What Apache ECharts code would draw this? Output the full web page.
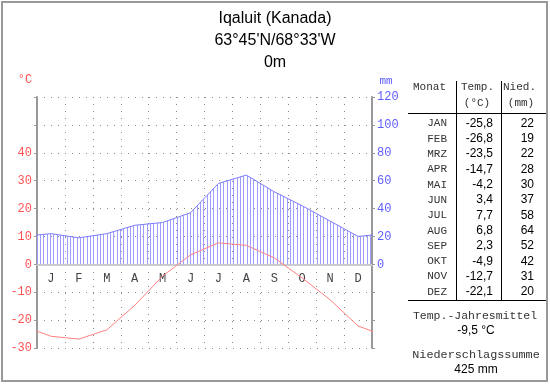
<!DOCTYPE html>
<html>
<head>
<meta charset="utf-8">
<script src="https://cdn.jsdelivr.net/npm/echarts@6/dist/echarts.min.js"></script>
<style>
html,body{margin:0;padding:0;background:#fff;}
#chart{width:550px;height:384px;}
</style>
</head>
<body>
<div id="chart"></div>
<script>
// ---- data ----
const titleLines = ['Iqaluit (Kanada)', "63°45'N/68°33'W", '0m'];
const monthLetters = ['J','F','M','A','M','J','J','A','S','O','N','D'];
const monthAbbr = ['JAN','FEB','MRZ','APR','MAI','JUN','JUL','AUG','SEP','OKT','NOV','DEZ'];
const temps = [-25.8,-26.8,-23.5,-14.7,-4.2,3.4,7.7,6.8,2.3,-4.9,-12.7,-22.1];
const precip = [22,19,22,28,30,37,58,64,52,42,31,20];
const tempTickLabels = [-30,-20,-10,0,10,20,30,40];
const precipTickLabels = [0,20,40,60,80,100,120];
const tableHeader = ['Monat','Temp.','Nied.'];
const tableUnits = ['(°C)','(mm)'];
const footerLabels = ['Temp.-Jahresmittel','Niederschlagssumme'];

// ---- helpers ----
const fmt = v => v.toFixed(1).replace('.', ',');
// cyclic series: December before January and January after December, clipped at the plot edges
function cyclic(arr){
  const out = [[-0.5, arr[arr.length-1]]];
  arr.forEach((v,i)=>out.push([i+0.5, v]));
  out.push([arr.length+0.5, arr[0]]);
  return out;
}
const meanTemp = temps.reduce((a,b)=>a+b,0)/temps.length;
const sumPrecip = precip.reduce((a,b)=>a+b,0);

// hatch pattern
const pat = document.createElement('canvas');
pat.width = 10; pat.height = 10;
const pctx = pat.getContext('2d');
pctx.fillStyle = '#9d9dff';
[0,3,7].forEach(x=>pctx.fillRect(x,0,1,10));

const RED = '#ff5252';
const BLUE = '#6060ff';
const MONO = '"Liberation Mono","DejaVu Sans Mono",monospace';
const SANS = '"Liberation Sans",Arial,sans-serif';

const GRID = {left:37, right:178, top:97, bottom:36};
const TMIN = -30, TMAX = 60;
const gridH = 384 - GRID.top - GRID.bottom;
const zeroOffset = -gridH * (0 - TMIN) / (TMAX - TMIN);

const chart = echarts.init(document.getElementById('chart'), null, {renderer:'canvas'});

const graphics = [];
// frame
graphics.push({type:'rect', shape:{x:2,y:2,width:545,height:379}, style:{fill:null, stroke:'#999', lineWidth:2}, silent:true});
// title
titleLines.forEach((t,i)=>graphics.push({type:'text', x:275, y:19+i*22, style:{text:t, font:'16px '+SANS, fill:'#000', textAlign:'center', textVerticalAlign:'middle'}}));
// units
graphics.push({type:'text', x:25, y:80, style:{text:'°C', font:'12px '+MONO, fill:RED, textAlign:'center', textVerticalAlign:'middle'}});
graphics.push({type:'text', x:386, y:81, style:{text:'mm', font:'11px '+MONO, fill:BLUE, textAlign:'center', textVerticalAlign:'middle'}});
// table
const hx = [413, 461, 503];
tableHeader.forEach((t,i)=>graphics.push({type:'text', x:hx[i], y:87, style:{text:t, font:'11px '+MONO, fill:'#333', textAlign:'left', textVerticalAlign:'middle'}}));
const ux = [477, 521];
tableUnits.forEach((t,i)=>graphics.push({type:'text', x:ux[i], y:103, style:{text:t, font:'11px '+MONO, fill:'#333', textAlign:'center', textVerticalAlign:'middle'}}));
graphics.push({type:'line', shape:{x1:456.5,y1:81,x2:456.5,y2:300}, style:{stroke:'#000', lineWidth:1}});
graphics.push({type:'line', shape:{x1:501.5,y1:81,x2:501.5,y2:300}, style:{stroke:'#000', lineWidth:1}});
graphics.push({type:'line', shape:{x1:408,y1:113.5,x2:546,y2:113.5}, style:{stroke:'#000', lineWidth:1}});
graphics.push({type:'line', shape:{x1:408,y1:300.5,x2:546,y2:300.5}, style:{stroke:'#000', lineWidth:1}});
monthAbbr.forEach((m,i)=>{
  const y = 123.5 + i*15.3;
  graphics.push({type:'text', x:447, y:y, style:{text:m, font:'11px '+MONO, fill:'#333', textAlign:'right', textVerticalAlign:'middle'}});
  graphics.push({type:'text', x:493, y:y, style:{text:fmt(temps[i]), font:'12px '+SANS, fill:'#000', textAlign:'right', textVerticalAlign:'middle'}});
  graphics.push({type:'text', x:534, y:y, style:{text:String(precip[i]), font:'12px '+SANS, fill:'#000', textAlign:'right', textVerticalAlign:'middle'}});
});
graphics.push({type:'text', x:475, y:316, style:{text:footerLabels[0], font:'11.5px '+MONO, fill:'#333', textAlign:'center', textVerticalAlign:'middle'}});
graphics.push({type:'text', x:476, y:331, style:{text:fmt(meanTemp)+' °C', font:'12px '+SANS, fill:'#000', textAlign:'center', textVerticalAlign:'middle'}});
graphics.push({type:'text', x:476, y:355, style:{text:footerLabels[1], font:'11.8px '+MONO, fill:'#333', textAlign:'center', textVerticalAlign:'middle'}});
graphics.push({type:'text', x:476, y:370, style:{text:sumPrecip+' mm', font:'12px '+SANS, fill:'#000', textAlign:'center', textVerticalAlign:'middle'}});

const option = {
  animation:false,
  backgroundColor:'#fff',
  grid:GRID,
  xAxis:[
    {type:'category', data:monthLetters, boundaryGap:true, position:'bottom', offset:zeroOffset,
     axisLine:{onZero:false, lineStyle:{color:'#cccccc', width:2}},
     axisTick:{show:false},
     axisLabel:{interval:0, margin:8, fontFamily:MONO, fontSize:12, color:'#444'},
     splitLine:{show:true, interval:0, lineStyle:{color:'#888', width:1, type:[1,6]}}},
    {type:'value', min:0, max:12, show:false}
  ],
  yAxis:[
    {type:'value', min:TMIN, max:TMAX, interval:10, position:'left',
     axisLine:{show:true, onZero:false, lineStyle:{color:'#999', width:2}},
     axisTick:{show:true, length:3, lineStyle:{color:'#999'}},
     axisLabel:{margin:5, fontFamily:MONO, fontSize:12, color:RED,
       formatter:v=>tempTickLabels.includes(v)?String(v):''},
     splitLine:{show:true, lineStyle:{color:'#888', width:1, type:[1,6]}}},
    {type:'value', min:-60, max:120, interval:20, position:'right',
     axisLine:{show:true, onZero:false, lineStyle:{color:'#999', width:2}},
     axisTick:{show:true, length:3, lineStyle:{color:'#999'}},
     axisLabel:{margin:5, fontFamily:MONO, fontSize:12, color:BLUE,
       formatter:v=>precipTickLabels.includes(v)?String(v):''},
     splitLine:{show:false}}
  ],
  series:[
    {type:'line', name:'Niederschlag', xAxisIndex:1, yAxisIndex:1, data:cyclic(precip),
     symbol:'none', clip:true, lineStyle:{color:'#7c7cff', width:1},
     areaStyle:{color:{image:pat, repeat:'repeat'}, opacity:1}, z:3},
    {type:'line', name:'Temperatur', xAxisIndex:1, yAxisIndex:0, data:cyclic(temps),
     symbol:'none', clip:true, lineStyle:{color:'#ff8080', width:1}, z:4}
  ],
  graphic:graphics
};
chart.setOption(option);
</script>
</body>
</html>
